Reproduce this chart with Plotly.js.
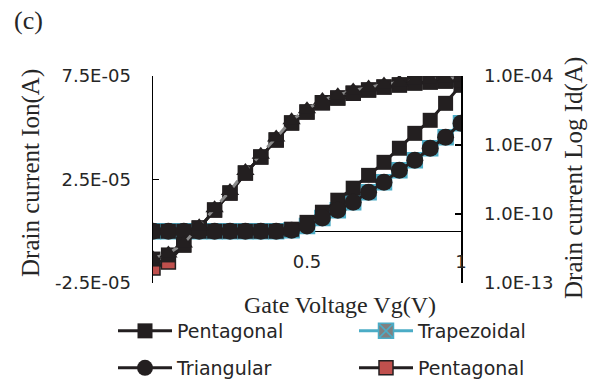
<!DOCTYPE html>
<html>
<head>
<meta charset="utf-8">
<script src="https://cdn.plot.ly/plotly-3.0.1.min.js"></script>
<style>html,body{margin:0;padding:0;background:#fff;}#chart{width:595px;height:381px;}</style>
</head>
<body>
<div id="chart"></div>
<script>
// Gate voltage (V)
const vg = [0, 0.05, 0.1, 0.15, 0.2, 0.25, 0.3, 0.35, 0.4, 0.45, 0.5, 0.55, 0.6, 0.65, 0.7, 0.75, 0.8, 0.85, 0.9, 0.95, 1.0];

// Linear drain current Ion (A) - left axis
const pentagonalIon = [0, 0, 0, 0, 0, 0, 0, 0, 0, 1.0e-6, 4.3e-6, 9.2e-6, 1.5e-5, 2.08e-5, 2.7e-5, 3.33e-5, 4.01e-5, 4.73e-5, 5.36e-5, 6.18e-5, 7.05e-5];
const trapezoidalIon = [0, 0, 0, 0, 0, 0, 0, 0, 0, 5e-7, 2.5e-6, 6.4e-6, 1.01e-5, 1.4e-5, 1.88e-5, 2.37e-5, 2.95e-5, 3.43e-5, 4.01e-5, 4.54e-5, 5.22e-5];
const triangularIon = [0, 0, 0, 0, 0, 0, 0, 0, 0, 5e-7, 2.5e-6, 6.4e-6, 1.01e-5, 1.4e-5, 1.88e-5, 2.37e-5, 2.95e-5, 3.43e-5, 4.01e-5, 4.54e-5, 5.22e-5];

// Log drain current Id (A) - right axis
const pentagonalLogId = [4.5e-13, 8.1e-13, 4.5e-12, 2.45e-11, 1.48e-10, 8.1e-10, 6.0e-9, 3.0e-8, 1.66e-7, 9.1e-7, 2.7e-6, 6.8e-6, 1.1e-5, 1.8e-5, 2.45e-5, 3.3e-5, 4.1e-5, 5.0e-5, 5.5e-5, 6.0e-5, 6.8e-5];
const squareLogId = [1.1e-12, 1.66e-12, 4.5e-12, 2.45e-11, 1.48e-10, 8.1e-10, 6.0e-9, 3.0e-8, 1.66e-7, 9.1e-7, 2.7e-6, 6.8e-6, 1.1e-5, 1.8e-5, 2.45e-5, 3.3e-5, 4.1e-5, 5.0e-5, 5.5e-5, 6.0e-5, 6.8e-5];
const triangleLogId = [1.2e-12, 1.9e-12, 5.2e-12, 2.9e-11, 1.8e-10, 1.0e-9, 7.4e-9, 3.8e-8, 2.1e-7, 1.2e-6, 3.6e-6, 9.0e-6, 1.45e-5, 2.35e-5, 3.2e-5, 4.3e-5, 5.3e-5, 6.4e-5, 7.1e-5, 7.7e-5, 8.6e-5];

// Tick labels
const xTickVals = [0.5, 1];
const xTickText = ['0.5', '1'];
const yLeftTickVals = [-2.5e-5, 2.5e-5, 7.5e-5];
const yLeftTickText = ['-2.5E-05', '2.5E-05', '7.5E-05'];
const yRightTickVals = [1e-13, 1e-10, 1e-7, 1e-4];
const yRightTickText = ['1.0E-13', '1.0E-10', '1.0E-07', '1.0E-04'];

const BLK = '#231f20';
const CYAN = '#4bacc6';
const GRAY = '#808080';
const RED = '#c0504d';
const SANS = 'DejaVu Sans, sans-serif';
const SERIF = 'Liberation Serif, serif';

const traces = [
  {x: vg, y: trapezoidalIon, name: 'Trapezoidal', yaxis: 'y', mode: 'lines+markers', legend: 'legend2',
   line: {color: CYAN, width: 3}, marker: {symbol: 'square-x', size: 15, color: GRAY, line: {color: CYAN, width: 1.5}}},
  {x: vg, y: pentagonalIon, name: 'Pentagonal', yaxis: 'y', mode: 'lines+markers', legend: 'legend',
   line: {color: BLK, width: 3}, marker: {symbol: 'square', size: 15, color: BLK}},
  {x: vg, y: triangularIon, name: 'Triangular', yaxis: 'y', mode: 'lines+markers', legend: 'legend3',
   line: {color: BLK, width: 3}, marker: {symbol: 'circle', size: 17, color: BLK}},
  {x: vg, y: pentagonalLogId, name: 'Pentagonal', yaxis: 'y2', mode: 'lines+markers', legend: 'legend4',
   line: {color: BLK, width: 3}, marker: {symbol: 'square', size: 14, color: RED, line: {color: BLK, width: 1.5}}},
  {x: vg, y: squareLogId, name: 'Pentagonal log', yaxis: 'y2', mode: 'lines+markers', showlegend: false,
   line: {color: BLK, width: 3}, marker: {symbol: 'square', size: 15, color: BLK}},
  {x: vg, y: triangleLogId, name: 'Triangle log', yaxis: 'y2', mode: 'lines+markers', showlegend: false,
   line: {color: '#8a8a8a', width: 3, dash: 'dash'}, marker: {symbol: 'triangle-up', size: 16, color: BLK}}
];

const PL = 153, PT = 76, PW = 308, PH = 207;
function px2x(px) { return (px - PL) / PW; }
function px2y(py) { return (PT + PH - py) / PH; }

function leg(xpx, ypx) {
  return {xref: 'paper', yref: 'paper', x: px2x(xpx), y: px2y(ypx),
          xanchor: 'left', yanchor: 'middle', bgcolor: 'rgba(0,0,0,0)', borderwidth: 0,
          font: {family: SANS, size: 19, color: '#262626'}, itemwidth: 54};
}

const layout = {
  width: 595, height: 381,
  margin: {l: PL, r: 595 - PL - PW, t: PT, b: 381 - PT - PH, pad: 0, autoexpand: false},
  paper_bgcolor: '#fff', plot_bgcolor: '#fff',
  showlegend: true,
  xaxis: {range: [0, 1], anchor: 'free', position: 0.165, showline: false, ticks: '',
          tickvals: xTickVals, ticktext: xTickText, showgrid: false, zeroline: false,
          tickfont: {family: SANS, size: 18, color: '#262626'}},
  yaxis: {range: [-2.5e-5, 7.5e-5], showline: true, linecolor: '#000', linewidth: 1.5,
          ticks: 'inside', ticklen: 6, tickwidth: 1.5, tickcolor: '#000',
          tickvals: yLeftTickVals, ticktext: yLeftTickText, showgrid: false,
          zeroline: true, zerolinecolor: '#000', zerolinewidth: 1.5, ticklabelstandoff: 17,
          tickfont: {family: SANS, size: 18, color: '#262626'}},
  yaxis2: {type: 'log', range: [-13, -4], overlaying: 'y', side: 'right', anchor: 'x',
           showline: true, linecolor: '#000', linewidth: 1.5,
           ticks: 'inside', ticklen: 6, tickwidth: 1.5, tickcolor: '#000',
           tickvals: yRightTickVals, ticktext: yRightTickText, showgrid: false, zeroline: false,
           ticklabelstandoff: 18,
           tickfont: {family: SANS, size: 18, color: '#262626'}},
  legend: leg(113, 331),
  legend2: leg(354, 331),
  legend3: leg(113, 368),
  legend4: leg(354, 368),
  annotations: [
    {text: '(c)', xref: 'paper', yref: 'paper', x: px2x(28), y: px2y(21),
     xanchor: 'center', yanchor: 'middle', showarrow: false, font: {family: SERIF, size: 26, color: '#262626'}},
    {text: 'Gate Voltage Vg(V)', xref: 'paper', yref: 'paper', x: px2x(340), y: px2y(305),
     xanchor: 'center', yanchor: 'middle', showarrow: false, font: {family: SERIF, size: 24, color: '#262626'}},
    {text: 'Drain current Ion(A)', xref: 'paper', yref: 'paper', x: px2x(31), y: px2y(173),
     xanchor: 'center', yanchor: 'middle', textangle: -90, showarrow: false, font: {family: SERIF, size: 25, color: '#262626'}},
    {text: 'Drain current Log Id(A)', xref: 'paper', yref: 'paper', x: px2x(574), y: px2y(178),
     xanchor: 'center', yanchor: 'middle', textangle: -90, showarrow: false, font: {family: SERIF, size: 25, color: '#262626'}}
  ]
};

Plotly.newPlot('chart', traces, layout, {displayModeBar: false, staticPlot: true});
</script>
</body>
</html>
